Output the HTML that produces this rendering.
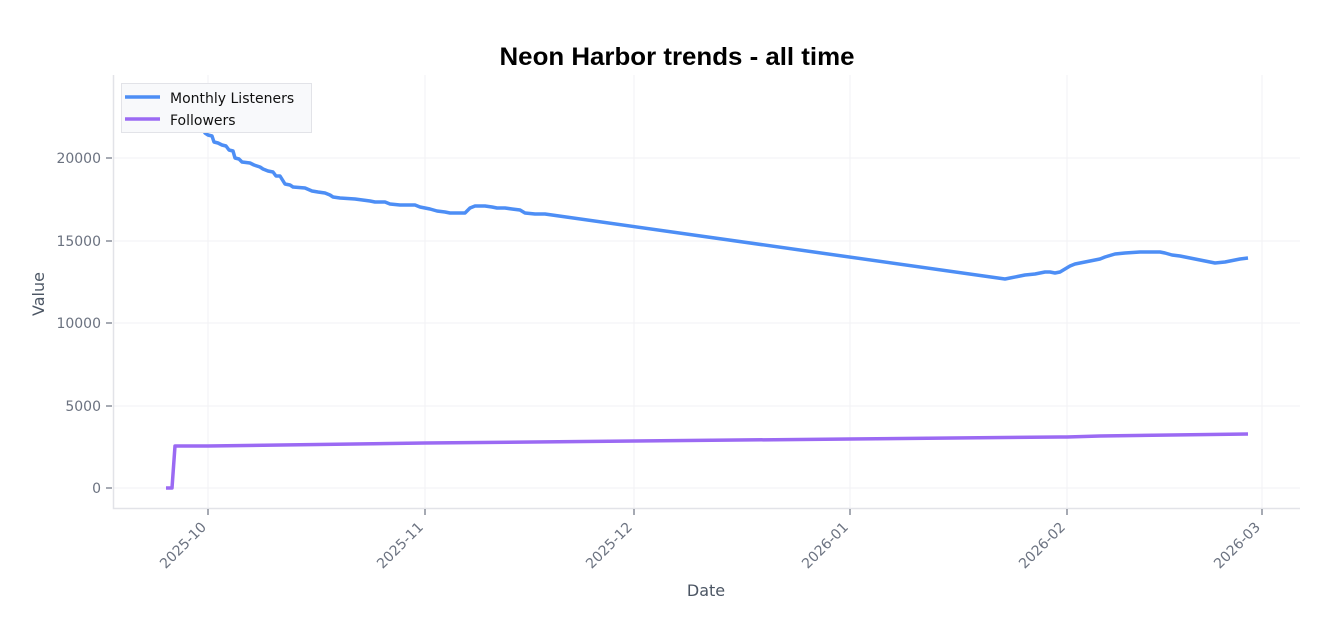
<!DOCTYPE html>
<html><head><meta charset="utf-8"><style>
body{margin:0;background:#fff;}
svg{display:block;font-family:"DejaVu Sans","Liberation Sans",sans-serif;}
</style></head><body>
<svg width="1330" height="629" viewBox="0 0 1330 629" xmlns="http://www.w3.org/2000/svg">
<rect width="1330" height="629" fill="#fff"/>
<text x="677" y="65" text-anchor="middle" font-family="Liberation Sans, sans-serif" font-weight="bold" font-size="25" textLength="355" lengthAdjust="spacingAndGlyphs" fill="#000">Neon Harbor trends - all time</text>
<g stroke="#f2f2f4" stroke-width="1">
<line x1="208" y1="75" x2="208" y2="508"/><line x1="425" y1="75" x2="425" y2="508"/><line x1="634" y1="75" x2="634" y2="508"/><line x1="850" y1="75" x2="850" y2="508"/><line x1="1067" y1="75" x2="1067" y2="508"/><line x1="1262" y1="75" x2="1262" y2="508"/>
<line x1="113" y1="158" x2="1300" y2="158"/><line x1="113" y1="241" x2="1300" y2="241"/><line x1="113" y1="323" x2="1300" y2="323"/><line x1="113" y1="406" x2="1300" y2="406"/><line x1="113" y1="488" x2="1300" y2="488"/>
</g>
<path d="M113.5 75 V508.5 H1300" fill="none" stroke="#e2e3e8" stroke-width="1.5"/>
<g stroke="#6b7280" stroke-width="1.2">
<line x1="106" y1="158" x2="112" y2="158"/><line x1="106" y1="241" x2="112" y2="241"/><line x1="106" y1="323" x2="112" y2="323"/><line x1="106" y1="406" x2="112" y2="406"/><line x1="106" y1="488" x2="112" y2="488"/>
<line x1="208" y1="509" x2="208" y2="515"/><line x1="425" y1="509" x2="425" y2="515"/><line x1="634" y1="509" x2="634" y2="515"/><line x1="850" y1="509" x2="850" y2="515"/><line x1="1067" y1="509" x2="1067" y2="515"/><line x1="1262" y1="509" x2="1262" y2="515"/>
</g>
<g font-size="14" fill="#6b7280" text-anchor="end">
<text x="101" y="163">20000</text><text x="101" y="246">15000</text><text x="101" y="328">10000</text><text x="101" y="411">5000</text><text x="101" y="493">0</text>
<text transform="translate(207,528) rotate(-45)">2025-10</text>
<text transform="translate(424,528) rotate(-45)">2025-11</text>
<text transform="translate(633,528) rotate(-45)">2025-12</text>
<text transform="translate(849,528) rotate(-45)">2026-01</text>
<text transform="translate(1066,528) rotate(-45)">2026-02</text>
<text transform="translate(1261,528) rotate(-45)">2026-03</text>
</g>
<text x="706" y="596" text-anchor="middle" font-size="16" fill="#4b5563">Date</text>
<text transform="translate(44,294) rotate(-90)" text-anchor="middle" font-size="16" fill="#4b5563">Value</text>
<polyline fill="none" stroke="#4d8ef5" stroke-width="3.5" stroke-linejoin="round" points="190,100 205,133 208,135 212,136 214,142 218,143 222,145 226,146 229,150 233,151 235,158 239,159 242,162 250,163 254,165 260,167 263,169 268,171 273,172 276,176 280,176 285,184 290,185 293,187 305,188 312,191 318,192 325,193 330,195 333,197 340,198 355,199 370,201 375,202 385,202 390,204 400,205 415,205 420,207 430,209 437,211 445,212 450,213 458,213 465,213 470,208 475,206 480,206 485,206 492,207 497,208 505,208 512,209 520,210 525,213 535,214 545,214 1005,279 1010,278 1020,276 1025,275 1035,274 1040,273 1045,272 1050,272 1055,273 1060,272 1065,269 1070,266 1075,264 1080,263 1090,261 1100,259 1105,257 1115,254 1125,253 1140,252 1160,252 1165,253 1172,255 1180,256 1190,258 1200,260 1210,262 1215,263 1225,262 1235,260 1240,259 1248,258"/>
<polyline fill="none" stroke="#9b6af3" stroke-width="3.5" stroke-linejoin="round" points="166,488 172,488 175,446 208,446 425,443 634,441 850,439 1060,437 1067,437 1100,436 1248,434"/>
<rect x="121.5" y="83.5" width="190" height="49" fill="#f8f9fb" stroke="#e2e3e8" stroke-width="1"/>
<line x1="125" y1="97" x2="160" y2="97" stroke="#4d8ef5" stroke-width="3.5"/>
<line x1="125" y1="119" x2="160" y2="119" stroke="#9b6af3" stroke-width="3.5"/>
<text x="170" y="103" font-size="14" fill="#111">Monthly Listeners</text>
<text x="170" y="125" font-size="14" fill="#111">Followers</text>
</svg>
</body></html>
